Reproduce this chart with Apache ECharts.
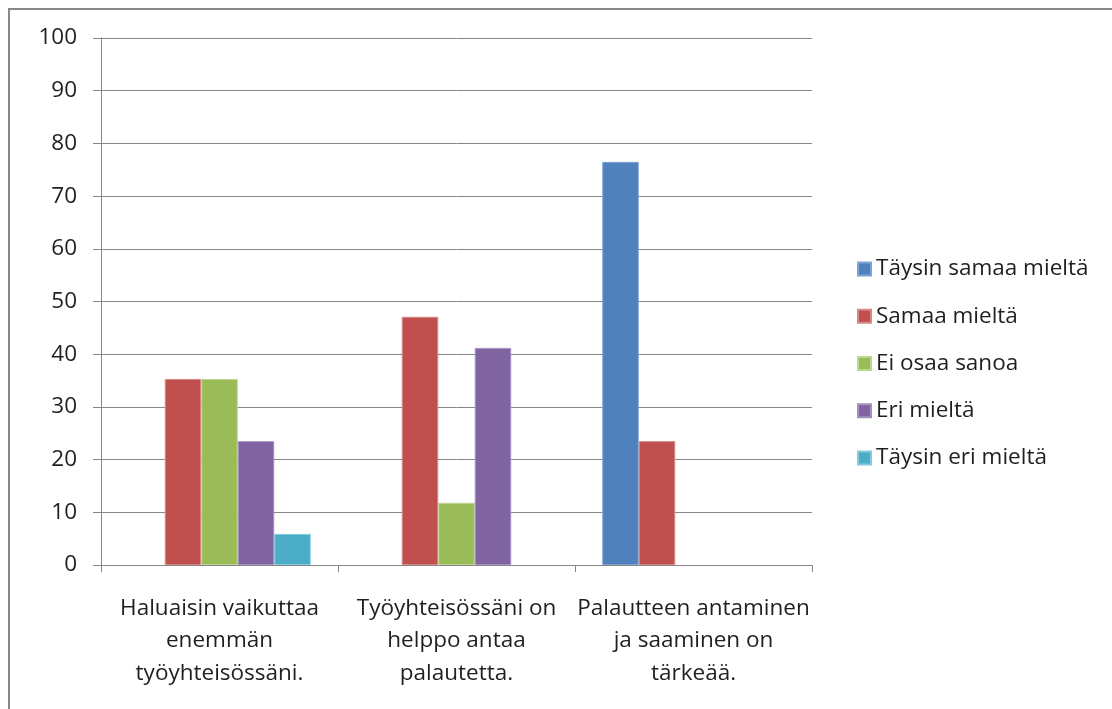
<!DOCTYPE html>
<html>
<head>
<meta charset="utf-8">
<script src="https://cdn.jsdelivr.net/npm/echarts@6/dist/echarts.min.js"></script>
<style>html,body{margin:0;padding:0;background:#fff}#c{width:1112px;height:709px}</style>
</head>
<body>
<div id="c"></div>
<script>
const categories = ["Haluaisin vaikuttaa\nenemmän\ntyöyhteisössäni.", "Työyhteisössäni on\nhelppo antaa\npalautetta.", "Palautteen antaminen\nja saaminen on\ntärkeää."];
const seriesNames = ["Täysin samaa mieltä", "Samaa mieltä", "Ei osaa sanoa", "Eri mieltä", "Täysin eri mieltä"];
const taysinSamaa = [null, null, 76.5];
const samaa = [35.3, 47.1, 23.5];
const eiOsaa = [35.3, 11.8, null];
const eri = [23.5, 41.2, null];
const taysinEri = [5.9, null, null];
const yTicks = [0, 10, 20, 30, 40, 50, 60, 70, 80, 90, 100];

const colors = ["#4F81BD", "#C0504D", "#9BBB59", "#8064A2", "#4BACC6"];
const borders = ["#7fa3d3", "#d88784", "#bcd78e", "#a591c0", "#86cbdc"];
const values = [taysinSamaa, samaa, eiOsaa, eri, taysinEri];
const FONT = 'Open Sans';
const FS = 22.5;

const chart = echarts.init(document.getElementById('c'), null, {renderer: 'canvas'});
chart.setOption({
  animation: false,
  backgroundColor: '#fff',
  textStyle: {fontFamily: FONT},
  graphic: [{
    type: 'rect', shape: {x: 9, y: 9, width: 1200, height: 800},
    style: {fill: 'none', stroke: '#878787', lineWidth: 2}, silent: true
  }],
  grid: {left: 101, right: 300, top: 38, bottom: 144},
  legend: {
    orient: 'vertical', left: 852, top: 252.5,
    itemWidth: 13, itemHeight: 13, itemGap: 24.25,
    icon: 'rect',
    textStyle: {fontFamily: FONT, fontSize: FS, color: '#1f1f1f', lineHeight: 23},
    data: seriesNames
  },
  xAxis: {
    type: 'category', data: categories,
    axisLine: {lineStyle: {color: '#868686', width: 1}},
    axisTick: {show: true, length: 7, lineStyle: {color: '#868686'}},
    axisLabel: {fontFamily: FONT, fontSize: FS, color: '#1f1f1f', lineHeight: 32.5, margin: 27, interval: 0}
  },
  yAxis: {
    type: 'value', min: 0, max: 100, interval: 10,
    axisLine: {show: true, lineStyle: {color: '#868686'}},
    axisTick: {show: true, length: 8, lineStyle: {color: '#868686'}},
    splitLine: {lineStyle: {color: '#868686', width: 1}},
    axisLabel: {fontFamily: FONT, fontSize: FS, color: '#1f1f1f', margin: 24,
      formatter: v => yTicks.includes(v) ? String(v) : ''}
  },
  series: seriesNames.map((n, i) => ({
    name: n, type: 'bar', data: values[i],
    barGap: '0%', barCategoryGap: '23%',
    itemStyle: {color: colors[i], borderColor: borders[i], borderWidth: 1}
  }))
});
</script>
</body>
</html>
